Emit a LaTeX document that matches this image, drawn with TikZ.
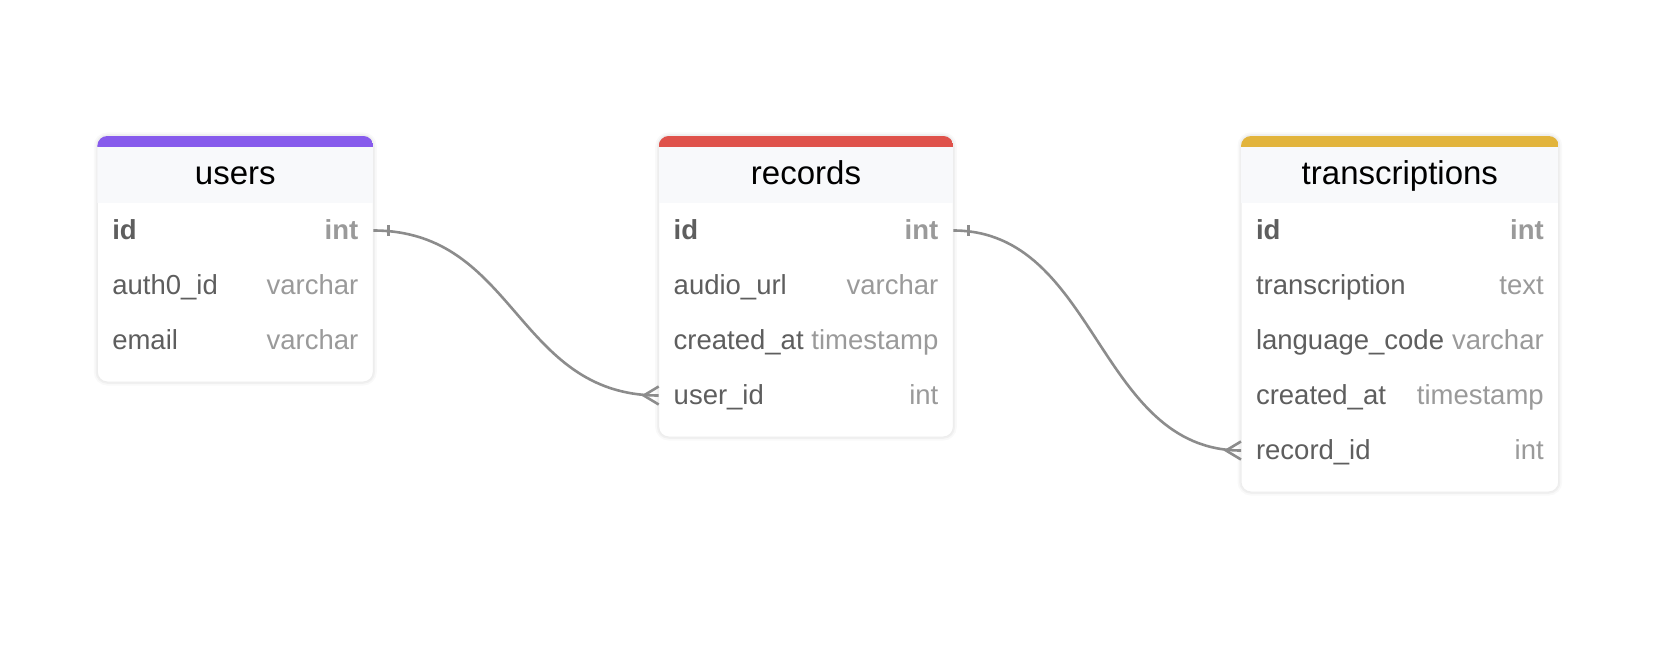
\documentclass[tikz,border=0pt]{standalone}
\usepackage{fontspec}
\setmainfont{Liberation Sans}
\usetikzlibrary{positioning,backgrounds}
\definecolor{userscol}{HTML}{875BEC}
\definecolor{recordscol}{HTML}{DF524B}
\definecolor{transcol}{HTML}{E2B43C}
\definecolor{headbg}{HTML}{F8F9FB}
\definecolor{fieldgrey}{HTML}{5E5E5E}
\definecolor{typegrey}{HTML}{9A9A9A}
\definecolor{linegrey}{HTML}{8C8C8C}
\newcommand{\ty}[1]{\textcolor{typegrey}{#1}}

\begin{document}
\begin{tikzpicture}[x=1pt,y=-1pt]
	\tikzstyle{every node}+=[inner sep=0pt, outer sep=0pt]
	\tikzstyle{tabletitle}=[minimum height=56pt, text height=26pt, text depth=8pt, font=\fontsize{33}{36}\selectfont]
	\tikzstyle{fieldrow}=[minimum height=55pt, inner xsep=15pt, text height=24pt, text depth=6pt, text=fieldgrey, font=\fontsize{27.5}{30}\selectfont]
	\tikzstyle{tablebox}=[fill=white, draw=black!7, line width=1pt, rounded corners=10pt]
	\tikzstyle{relline}=[linegrey, line width=2.6pt]
	\useasboundingbox (0,0) rectangle (1664,650);
	\node [tabletitle, minimum width=276pt] (users) at (235.3,175) {users};
	\node [fieldrow, text width=246pt, below=0pt of users] (users-id) {\textbf{id}\hfill\ty{\textbf{int}}};
	\node [fieldrow, text width=246pt, below=0pt of users-id] (users-auth) {auth0\_id\hfill\ty{varchar}};
	\node [fieldrow, text width=246pt, below=0pt of users-auth] (users-email) {email\hfill\ty{varchar}};
	\node [tabletitle, minimum width=294.6pt] (records) at (806,175) {records};
	\node [fieldrow, text width=264.6pt, below=0pt of records] (records-id) {\textbf{id}\hfill\ty{\textbf{int}}};
	\node [fieldrow, text width=264.6pt, below=0pt of records-id] (records-audio) {audio\_url\hfill\ty{varchar}};
	\node [fieldrow, text width=264.6pt, below=0pt of records-audio] (records-created) {created\_at\hfill\ty{timestamp}};
	\node [fieldrow, text width=264.6pt, below=0pt of records-created] (records-userid) {user\_id\hfill\ty{int}};
	\node [tabletitle, minimum width=317.7pt] (transcriptions) at (1399.85,175) {transcriptions};
	\node [fieldrow, text width=287.7pt, below=0pt of transcriptions] (transcriptions-id) {\textbf{id}\hfill\ty{\textbf{int}}};
	\node [fieldrow, text width=287.7pt, below=0pt of transcriptions-id] (transcriptions-text) {transcription\hfill\ty{text}};
	\node [fieldrow, text width=287.7pt, below=0pt of transcriptions-text] (transcriptions-lang) {language\_code\hfill\ty{varchar}};
	\node [fieldrow, text width=287.7pt, below=0pt of transcriptions-lang] (transcriptions-created) {created\_at\hfill\ty{timestamp}};
	\node [fieldrow, text width=287.7pt, below=0pt of transcriptions-created] (transcriptions-recordid) {record\_id\hfill\ty{int}};
	\begin{scope}[on background layer]
		\foreach \t/\l/\c in {users/users-email/userscol, records/records-userid/recordscol, transcriptions/transcriptions-recordid/transcol} {
			\draw [black, opacity=0.025, line width=7pt, rounded corners=10pt] ([yshift=11pt]\t.north west) rectangle ([yshift=-14pt]\l.south east);
			\draw [black, opacity=0.035, line width=3.5pt, rounded corners=10pt] ([yshift=11pt]\t.north west) rectangle ([yshift=-14pt]\l.south east);
			\draw [tablebox] ([yshift=11pt]\t.north west) rectangle ([yshift=-14pt]\l.south east);
			\begin{scope}
				\clip [rounded corners=10pt] ([yshift=11pt]\t.north west) rectangle ([yshift=-14pt]\l.south east);
				\fill [\c] ([yshift=11pt]\t.north west) rectangle (\t.north east);
				\fill [headbg] (\t.north west) rectangle (\t.south east);
			\end{scope}
		}
	\end{scope}
	\draw [relline] (users-id.east) .. controls +(143,0) and +(-143,0) .. (records-userid.west);
	\draw [relline] ([xshift=15pt,yshift=5.5pt]users-id.east) -- ([xshift=15pt,yshift=-5.5pt]users-id.east);
	\draw [relline] ([yshift=9pt]records-userid.west) -- ([xshift=-15pt]records-userid.west) -- ([yshift=-9pt]records-userid.west);
	\draw [relline] (records-id.east) .. controls +(144,0) and +(-144,0) .. (transcriptions-recordid.west);
	\draw [relline] ([xshift=15pt,yshift=5.5pt]records-id.east) -- ([xshift=15pt,yshift=-5.5pt]records-id.east);
	\draw [relline] ([yshift=9pt]transcriptions-recordid.west) -- ([xshift=-15pt]transcriptions-recordid.west) -- ([yshift=-9pt]transcriptions-recordid.west);
\end{tikzpicture}
\end{document}
